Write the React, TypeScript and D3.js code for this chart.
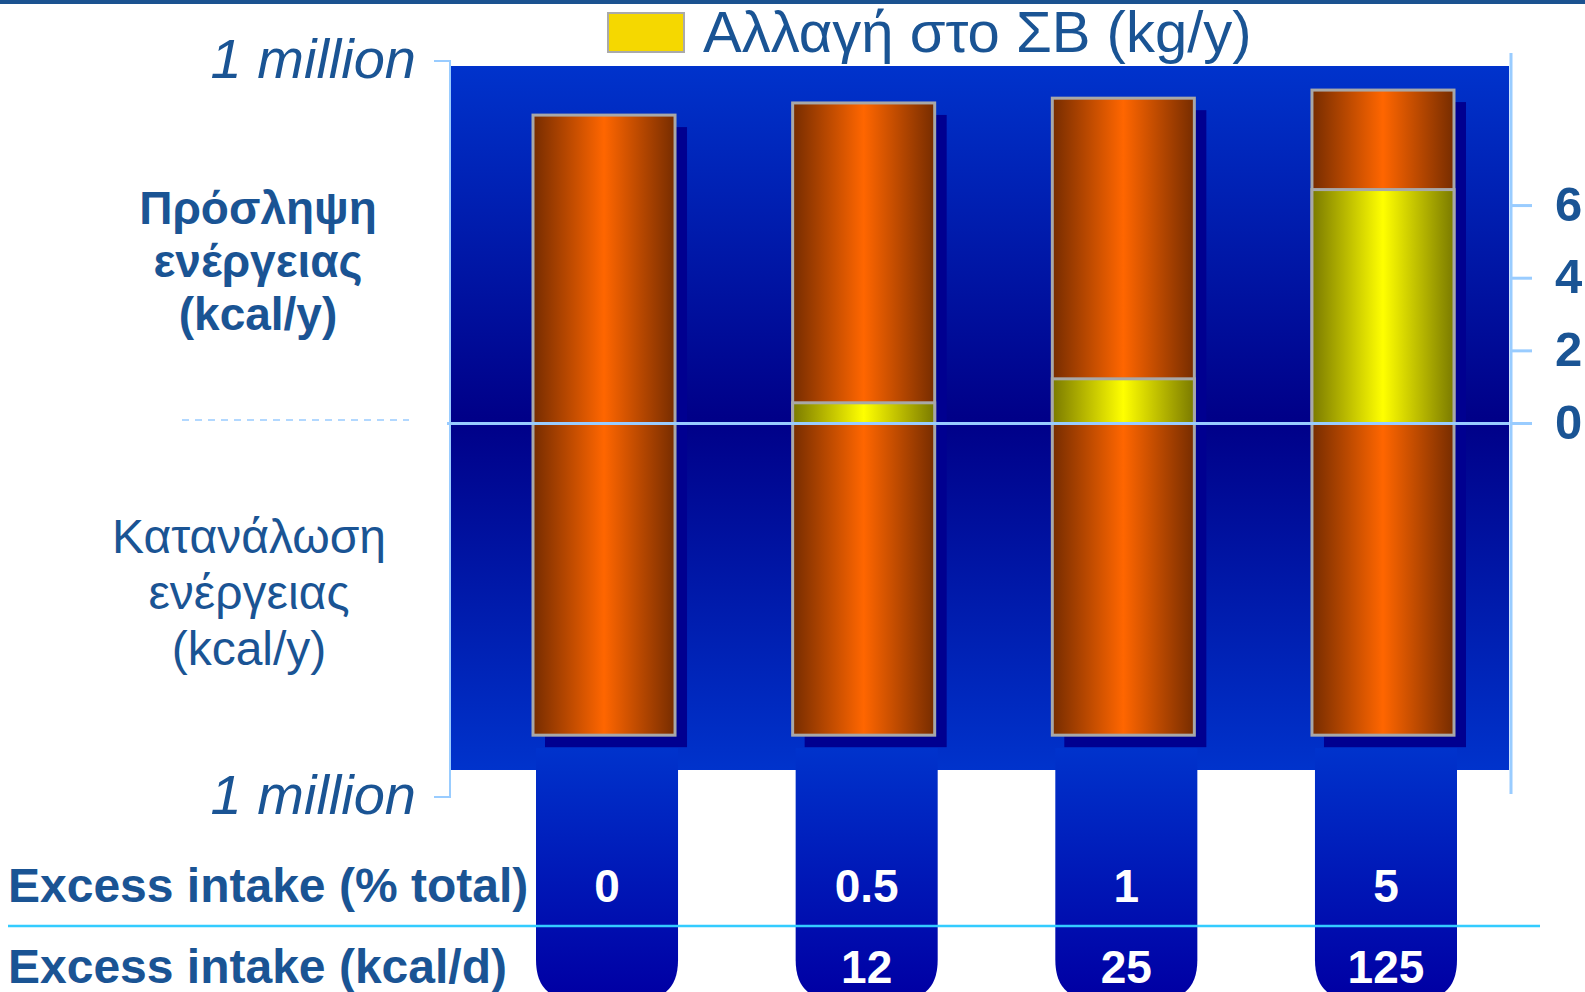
import React from "react";
import * as d3 from "d3";

const categories = ["c0", "c05", "c1", "c5"];
const intakeMillion = [0.853, 0.886, 0.899, 0.921];
const expenditureMillion = [0.832, 0.832, 0.832, 0.832];
const weightChangeKg = [0, 0.57, 1.23, 6.44];
const pctLabels = ["0", "0.5", "1", "5"];
const kcalLabels = ["", "12", "25", "125"];
const rightTicks = [0, 2, 4, 6];
const legendLabel = "Αλλαγή στο ΣΒ (kg/y)";
const intakeLines = ["Πρόσληψη", "ενέργειας", "(kcal/y)"];
const expendLines = ["Κατανάλωση", "ενέργειας", "(kcal/y)"];
const rowLabels = ["Excess intake (% total)", "Excess intake (kcal/d)"];
const millionLabel = "1 million";

const W = 1585;
const H = 992;
const TEXT = "#1a5494";
const AXIS = "#99ccff";
const FONT = "'Liberation Sans', Arial, sans-serif";

export default function App() {
  React.useEffect(() => {
    document.body.style.margin = "0";
  }, []);

  const plot = { x0: 450, x1: 1509, y0: 66, y1: 770 };
  const x = d3.scaleBand<string>().domain(categories).range([533, 1454]).paddingInner(0.453).paddingOuter(0);
  const yK = d3.scaleLinear().domain([-1, 1]).range([797, 61]);
  const yR = d3.scaleLinear().domain([-10.2, 10.2]).range([794, 53]);
  const bw = x.bandwidth();
  const zeroY = yR(0);
  const tabPath = (x0: number, w: number) => {
    const top = 748, bottom = 1000, r = 40;
    return `M${x0},${top} H${x0 + w} V${bottom - r} Q${x0 + w},${bottom} ${x0 + w - r},${bottom} H${x0 + r} Q${x0},${bottom} ${x0},${bottom - r} Z`;
  };

  return (
    <svg width={W} height={H} style={{ position: "absolute", left: 0, top: 0, display: "block" }} fontFamily={FONT}>
      <defs>
        <linearGradient id="bg" x1="0" y1={plot.y0} x2="0" y2={plot.y1} gradientUnits="userSpaceOnUse">
          <stop offset="0" stopColor="#0033cc" />
          <stop offset="0.5" stopColor="#000088" />
          <stop offset="1" stopColor="#0033cc" />
        </linearGradient>
        <linearGradient id="tab" x1="0" y1="748" x2="0" y2="992" gradientUnits="userSpaceOnUse">
          <stop offset="0" stopColor="#0033cc" />
          <stop offset="1" stopColor="#0000a4" />
        </linearGradient>
        <linearGradient id="orange" x1="0" y1="0" x2="1" y2="0">
          <stop offset="0" stopColor="#762c00" />
          <stop offset="0.5" stopColor="#ff6600" />
          <stop offset="1" stopColor="#762c00" />
        </linearGradient>
        <linearGradient id="yellow" x1="0" y1="0" x2="1" y2="0">
          <stop offset="0" stopColor="#7a7a00" />
          <stop offset="0.5" stopColor="#ffff00" />
          <stop offset="1" stopColor="#7a7a00" />
        </linearGradient>
      </defs>

      <rect x={0} y={0} width={W} height={4} fill="#1b5290" />

      {/* legend */}
      <rect x={608} y={13} width={76} height={39} fill="#f5d800" stroke="#aaaaaa" strokeWidth={2} />
      <text x={703} y={52} fontSize={58} fill={TEXT}>{legendLabel}</text>

      {/* plot background */}
      <rect x={plot.x0} y={plot.y0} width={plot.x1 - plot.x0} height={plot.y1 - plot.y0} fill="url(#bg)" />

      {/* tabs */}
      {categories.map((c) => (
        <path key={"tab" + c} d={tabPath((x(c) as number) + 3, bw)} fill="url(#tab)" />
      ))}

      {/* shadows */}
      {categories.map((c, i) => (
        <rect key={"sh" + c} x={(x(c) as number) + 12} y={yK(intakeMillion[i]) + 12}
          width={bw} height={yK(-expenditureMillion[i]) - yK(intakeMillion[i])} fill="#000090" />
      ))}

      {/* bars */}
      {categories.map((c, i) => (
        <rect key={"bar" + c} x={x(c) as number} y={yK(intakeMillion[i])}
          width={bw} height={yK(-expenditureMillion[i]) - yK(intakeMillion[i])}
          fill="url(#orange)" stroke="#a8a8a8" strokeWidth={3} />
      ))}
      {categories.map((c, i) =>
        weightChangeKg[i] > 0 ? (
          <rect key={"y" + c} x={x(c) as number} y={yR(weightChangeKg[i])}
            width={bw} height={zeroY - yR(weightChangeKg[i])}
            fill="url(#yellow)" stroke="#a8a8a8" strokeWidth={3} />
        ) : null
      )}

      {/* zero line */}
      <line x1={plot.x0 - 3} x2={plot.x1} y1={zeroY} y2={zeroY} stroke={AXIS} strokeWidth={3} />

      {/* left axis */}
      <path d={`M434,${yK(1)} H450 V${yK(-1)} H434`} fill="none" stroke={AXIS} strokeWidth={2} />
      <text x={416} y={78} fontSize={56} fontStyle="italic" textAnchor="end" fill={TEXT}>{millionLabel}</text>
      <text x={416} y={814} fontSize={56} fontStyle="italic" textAnchor="end" fill={TEXT}>{millionLabel}</text>

      {/* right axis */}
      <line x1={1511} x2={1511} y1={yR(10.2)} y2={yR(-10.2)} stroke={AXIS} strokeWidth={3} />
      {rightTicks.map((t) => (
        <g key={"rt" + t}>
          <line x1={1511} x2={1532} y1={yR(t)} y2={yR(t)} stroke={AXIS} strokeWidth={3} />
          <text x={1555} y={yR(t) + 15} fontSize={49} fontWeight="bold" fill={TEXT}>{t}</text>
        </g>
      ))}

      {/* dashed separator */}
      <line x1={182} x2={409} y1={420} y2={420} stroke={AXIS} strokeWidth={1.5} strokeDasharray="7,6" />

      {/* side labels */}
      {intakeLines.map((s, i) => (
        <text key={"il" + i} x={258} y={224 + i * 53} fontSize={46} fontWeight="bold" textAnchor="middle" fill={TEXT}>{s}</text>
      ))}
      {expendLines.map((s, i) => (
        <text key={"el" + i} x={249} y={553 + i * 56} fontSize={48} textAnchor="middle" fill={TEXT}>{s}</text>
      ))}

      {/* bottom rows */}
      <line x1={8} x2={1540} y1={926} y2={926} stroke="#33ccff" strokeWidth={2.5} />
      <text x={8} y={902} fontSize={48} fontWeight="bold" fill={TEXT}>{rowLabels[0]}</text>
      <text x={8} y={983} fontSize={48} fontWeight="bold" fill={TEXT}>{rowLabels[1]}</text>
      {categories.map((c, i) => (
        <g key={"lbl" + c}>
          <text x={(x(c) as number) + 3 + bw / 2} y={902} fontSize={46} fontWeight="bold" textAnchor="middle" fill="#ffffff">{pctLabels[i]}</text>
          <text x={(x(c) as number) + 3 + bw / 2} y={983} fontSize={46} fontWeight="bold" textAnchor="middle" fill="#ffffff">{kcalLabels[i]}</text>
        </g>
      ))}
    </svg>
  );
}
